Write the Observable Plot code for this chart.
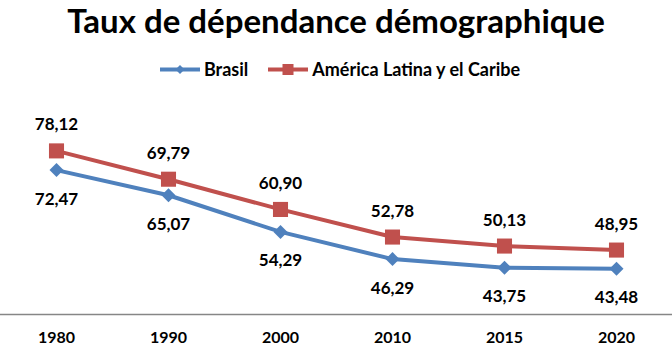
<!DOCTYPE html>
<html><head><meta charset="utf-8">
<script src="https://cdn.jsdelivr.net/npm/d3@7"></script>
<script src="https://cdn.jsdelivr.net/npm/@observablehq/plot@0.6"></script>
<style>
body{margin:0;background:#fff;font-family:Lato,"Open Sans",sans-serif;}
#wrap{width:672px;height:359px;overflow:hidden;}
#title{height:58px;text-align:center;font-weight:700;font-size:33px;line-height:40px;color:#000;}
#legend{height:32px;display:flex;justify-content:center;align-items:flex-start;gap:20px;font-weight:700;font-size:18px;line-height:22px;color:#000;padding-left:8px;box-sizing:border-box;}
#legend span{display:flex;align-items:center;gap:4px;}
</style></head>
<body><div id="wrap"><div id="title">Taux de dépendance démographique</div><div id="legend"></div><div id="chart"></div></div>
<script>
const years = ["1980","1990","2000","2010","2015","2020"];
const brasil = [72.47, 65.07, 54.29, 46.29, 43.75, 43.48];
const latam = [78.12, 69.79, 60.90, 52.78, 50.13, 48.95];
const seriesNames = ["Brasil", "América Latina y el Caribe"];
const colors = ["#4F81BD", "#C0504D"];

const data = [];
years.forEach((y, i) => {
  data.push({year: y, value: brasil[i], series: seriesNames[0]});
  data.push({year: y, value: latam[i], series: seriesNames[1]});
});
const fmt = v => v.toFixed(2).replace(".", ",");
const bData = data.filter(d => d.series === seriesNames[0]);
const rData = data.filter(d => d.series === seriesNames[1]);

// legend
const leg = document.getElementById("legend");
seriesNames.forEach((name, i) => {
  const s = document.createElement("span");
  const marker = i === 0
    ? `<path d="M20 6 L24.5 10.5 L20 15 L15.5 10.5 Z" fill="${colors[i]}"/>`
    : `<rect x="14.5" y="5" width="11" height="11" fill="${colors[i]}"/>`;
  s.innerHTML = `<svg width="40" height="21"><line x1="0" y1="10.5" x2="40" y2="10.5" stroke="${colors[i]}" stroke-width="4"/>${marker}</svg>${name}`;
  leg.appendChild(s);
});

const chart = Plot.plot({
  width: 672,
  height: 269,
  marginLeft: 0,
  marginRight: 0,
  marginTop: 20,
  marginBottom: 45,
  style: {fontFamily: "Lato, 'Open Sans', sans-serif", fontSize: "16px", fontWeight: 700, color: "#000"},
  x: {type: "point", domain: years, padding: 0.5, label: null, tickSize: 0, tickPadding: 17},
  y: {domain: [30, 90], axis: null},
  marks: [
    Plot.ruleY([30], {stroke: "#868686", strokeWidth: 1.5}),
    Plot.line(bData, {x: "year", y: "value", stroke: colors[0], strokeWidth: 4}),
    Plot.line(rData, {x: "year", y: "value", stroke: colors[1], strokeWidth: 4}),
    Plot.dot(bData, {x: "year", y: "value", symbol: "diamond2", r: 6.3, fill: colors[0], stroke: "none"}),
    Plot.dot(rData, {x: "year", y: "value", symbol: "square", r: 8.5, fill: colors[1], stroke: "none"}),
    Plot.text(bData, {x: "year", y: "value", text: d => fmt(d.value), dy: 29, fontSize: 17, fontWeight: 700, fill: "#000"}),
    Plot.text(rData, {x: "year", y: "value", text: d => fmt(d.value), dy: -26, fontSize: 17, fontWeight: 700, fill: "#000"})
  ]
});
document.getElementById("chart").appendChild(chart);
</script></body></html>
